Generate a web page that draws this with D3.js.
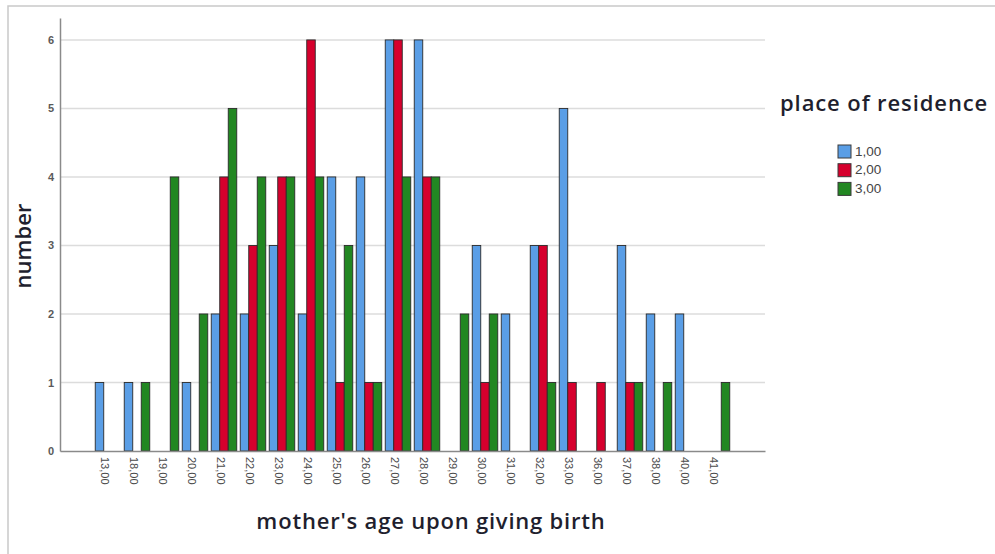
<!DOCTYPE html>
<html>
<head>
<meta charset="utf-8">
<script src="https://cdn.jsdelivr.net/npm/d3@7"></script>
<style>
  body { margin: 0; background: #fff; }
</style>
</head>
<body>
<div id="chart"></div>
<script>
// mother's age categories and counts per place of residence
const ages = ["13,00", "18,00", "19,00", "20,00", "21,00", "22,00", "23,00", "24,00", "25,00", "26,00", "27,00",
  "28,00", "29,00", "30,00", "31,00", "32,00", "33,00", "36,00", "37,00", "38,00", "40,00", "41,00"];
const residence = ["1,00", "2,00", "3,00"];
const res1 = [1, 1, 0, 1, 2, 2, 3, 2, 4, 4, 6, 6, 0, 3, 2, 3, 5, 0, 3, 2, 2, 0];
const res2 = [0, 0, 0, 0, 4, 3, 4, 6, 1, 1, 6, 4, 0, 1, 0, 3, 1, 1, 1, 0, 0, 0];
const res3 = [0, 1, 4, 2, 5, 4, 4, 4, 3, 1, 4, 4, 2, 2, 0, 1, 0, 0, 1, 1, 0, 1];
const yTicks = [0, 1, 2, 3, 4, 5, 6];

const width = 995, height = 554;
const plotLeft = 60, plotRight = 765, plotTop = 18, plotBottom = 451;

const svg = d3.select("#chart").append("svg")
  .attr("width", width)
  .attr("height", height);

// outer frame
svg.append("rect")
  .attr("x", 8).attr("y", 6)
  .attr("width", 1100).attr("height", 700)
  .attr("fill", "none")
  .attr("stroke", "#c9c9c9")
  .attr("stroke-width", 1.5);

const x = d3.scaleBand()
  .domain(ages)
  .range([plotLeft, plotRight])
  .paddingInner(0.12)
  .paddingOuter(1.215);

const xSub = d3.scaleBand()
  .domain(residence)
  .range([0, x.bandwidth()]);

const y = d3.scaleLinear()
  .domain([0, 6.32])
  .range([plotBottom, plotTop]);

const color = d3.scaleOrdinal()
  .domain(residence)
  .range(["#5a9ee6", "#d6002d", "#228722"]);

// gridlines
svg.append("g")
  .selectAll("line")
  .data(yTicks.filter(d => d > 0))
  .enter()
  .append("line")
  .attr("x1", plotLeft).attr("x2", plotRight)
  .attr("y1", d => y(d)).attr("y2", d => y(d))
  .attr("stroke", "#dcdcdc")
  .attr("stroke-width", 1.5);

// bars
const series = [res1, res2, res3];
const rows = [];
ages.forEach((a, i) => {
  residence.forEach((r, j) => {
    if (series[j][i] > 0) rows.push({age: a, res: r, value: series[j][i]});
  });
});

svg.append("g")
  .selectAll("rect")
  .data(rows)
  .enter()
  .append("rect")
  .attr("x", d => x(d.age) + xSub(d.res))
  .attr("y", d => y(d.value))
  .attr("width", xSub.bandwidth())
  .attr("height", d => y(0) - y(d.value))
  .attr("fill", d => color(d.res))
  .attr("stroke", "#2b2b2b")
  .attr("stroke-width", 0.9);

// y axis
const yAxis = svg.append("g")
  .attr("transform", `translate(${plotLeft},0)`)
  .call(d3.axisLeft(y).tickValues(yTicks).tickSize(0).tickPadding(6).tickFormat(d3.format("d")));
yAxis.select(".domain").attr("stroke", "#8a8a8a").attr("stroke-width", 1.5);
yAxis.selectAll("text")
  .attr("font-family", "Arial, 'Liberation Sans', sans-serif")
  .attr("font-size", 11)
  .attr("font-weight", "bold")
  .attr("fill", "#5a5a5a");

// x axis
const xAxis = svg.append("g")
  .attr("transform", `translate(0,${plotBottom})`)
  .call(d3.axisBottom(x).tickSize(0).tickPadding(0));
xAxis.select(".domain").attr("stroke", "#8a8a8a").attr("stroke-width", 1.5);
xAxis.selectAll("text")
  .attr("font-family", "Arial, 'Liberation Sans', sans-serif")
  .attr("font-size", 11)
  .attr("fill", "#4a4a4a")
  .attr("text-anchor", "start")
  .attr("dy", 0)
  .attr("y", 0)
  .attr("transform", "translate(-4,6) rotate(90)")
  .attr("dominant-baseline", "middle");

// axis titles
svg.append("text")
  .attr("x", 431).attr("y", 529)
  .attr("text-anchor", "middle")
  .attr("font-family", "'Open Sans', sans-serif")
  .attr("font-weight", 600)
  .attr("font-size", 22)
  .attr("letter-spacing", 0.8)
  .attr("fill", "#1f1f2e")
  .text("mother's age upon giving birth");

svg.append("text")
  .attr("transform", "translate(31,246) rotate(-90)")
  .attr("text-anchor", "middle")
  .attr("font-family", "'Open Sans', sans-serif")
  .attr("font-weight", 600)
  .attr("font-size", 22)
  .attr("fill", "#1f1f2e")
  .text("number");

// legend
svg.append("text")
  .attr("x", 780).attr("y", 111)
  .attr("font-family", "'Open Sans', sans-serif")
  .attr("font-weight", 600)
  .attr("font-size", 22)
  .attr("letter-spacing", 0.9)
  .attr("fill", "#1f1f2e")
  .text("place of residence");

const legend = svg.selectAll(".legend")
  .data(residence)
  .enter()
  .append("g")
  .attr("class", "legend")
  .attr("transform", (d, i) => `translate(838, ${145 + i * 18.7})`);

legend.append("rect")
  .attr("width", 13)
  .attr("height", 13)
  .attr("fill", d => color(d))
  .attr("stroke", "#3a3a3a")
  .attr("stroke-width", 1);

legend.append("text")
  .attr("x", 17)
  .attr("y", 7)
  .attr("dominant-baseline", "middle")
  .attr("font-family", "Arial, 'Liberation Sans', sans-serif")
  .attr("font-size", 13.5)
  .attr("fill", "#444")
  .text(d => d);
</script>
</body>
</html>
